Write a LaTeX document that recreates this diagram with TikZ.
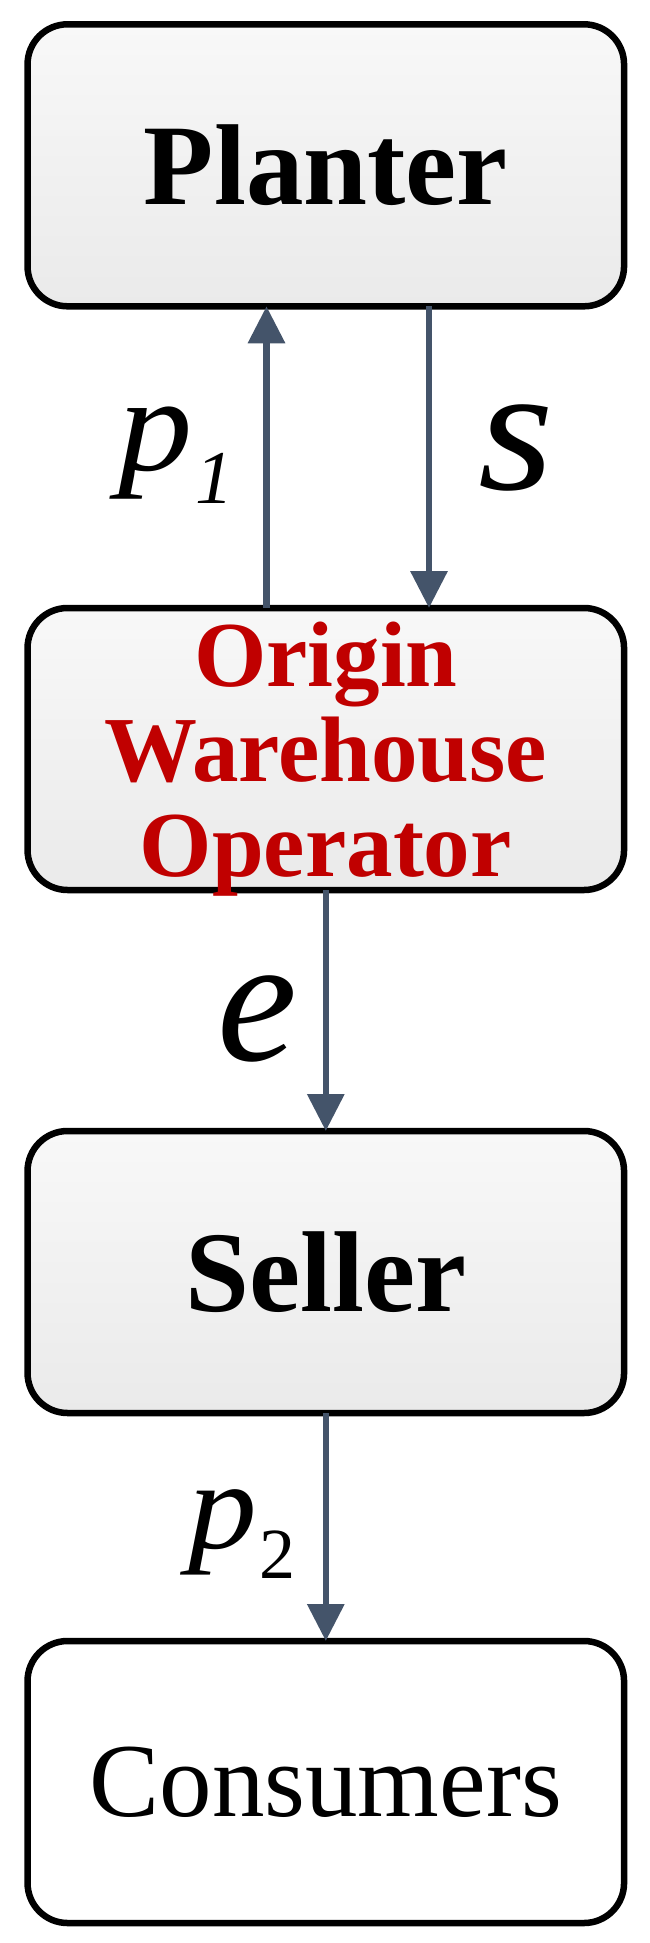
\documentclass[tikz,border=0pt]{standalone}
\usepackage{fontspec}
\setmainfont{Liberation Serif}
\usetikzlibrary{arrows.meta}
\definecolor{arrowc}{HTML}{44546A}
\definecolor{owored}{HTML}{C00000}
\definecolor{topg}{HTML}{F8F8F8}
\definecolor{botg}{HTML}{EAEAEA}
\begin{document}
\begin{tikzpicture}[x=1pt,y=-1pt,
  box/.style={draw=black, line width=6.5pt, rounded corners=40pt,
    minimum width=596.5pt, minimum height=282pt, outer sep=0pt,
    inner sep=0pt, align=center},
  shadedbox/.style={top color=topg, bottom color=botg},
  arr/.style={draw=arrowc, line width=6.5pt,
    -{Triangle[width=36pt,length=37pt]}},
  lab/.style={inner sep=0pt, anchor=base west, font=\itshape}]
\useasboundingbox (0,0) rectangle (650,1943);

\node[box, shadedbox, font=\bfseries\fontsize{115}{120}\selectfont] (planter) at (325.8,165.3) {Planter};
\node[box, shadedbox, text=owored, text depth=0pt,
  font=\bfseries\fontsize{93}{95}\selectfont] (owo) at (325.8,749)
  {Origin\\Warehouse\\Operator};
\node[box, shadedbox, font=\bfseries\fontsize{115}{120}\selectfont] (seller) at (325.8,1272) {Seller};
\node[box, fill=white, font=\fontsize{105}{110}\selectfont] (cons) at (325.8,1782) {Consumers};

\draw[arr] ([xshift=-59.3pt]owo.north) -- ([xshift=-59.3pt]planter.south);
\draw[arr] ([xshift=103.2pt]planter.south) -- ([xshift=103.2pt]owo.north);
\draw[arr] (owo.south) -- (seller.north);
\draw[arr] (seller.south) -- (cons.north);

\node[lab, font=\itshape\fontsize{135}{135}\selectfont] (lp1) at (118,470)
  {\scalebox{1.1}[1]{p}\kern 3pt\raisebox{-33pt}{\fontsize{76}{76}\selectfont 1}};
\node[lab, font=\itshape\fontsize{180}{180}\selectfont] (ls) at (478,489) {\scalebox{1.08}[1]{s}};
\node[lab, font=\itshape\fontsize{180}{180}\selectfont] (le) at (217,1060) {e};
\node[lab, font=\itshape\fontsize{125}{125}\selectfont] (lp2) at (188,1548)
  {\scalebox{1.1}[1]{p}\kern 3pt\raisebox{-30pt}{\fontsize{72}{72}\selectfont\upshape 2}};
\end{tikzpicture}
\end{document}
